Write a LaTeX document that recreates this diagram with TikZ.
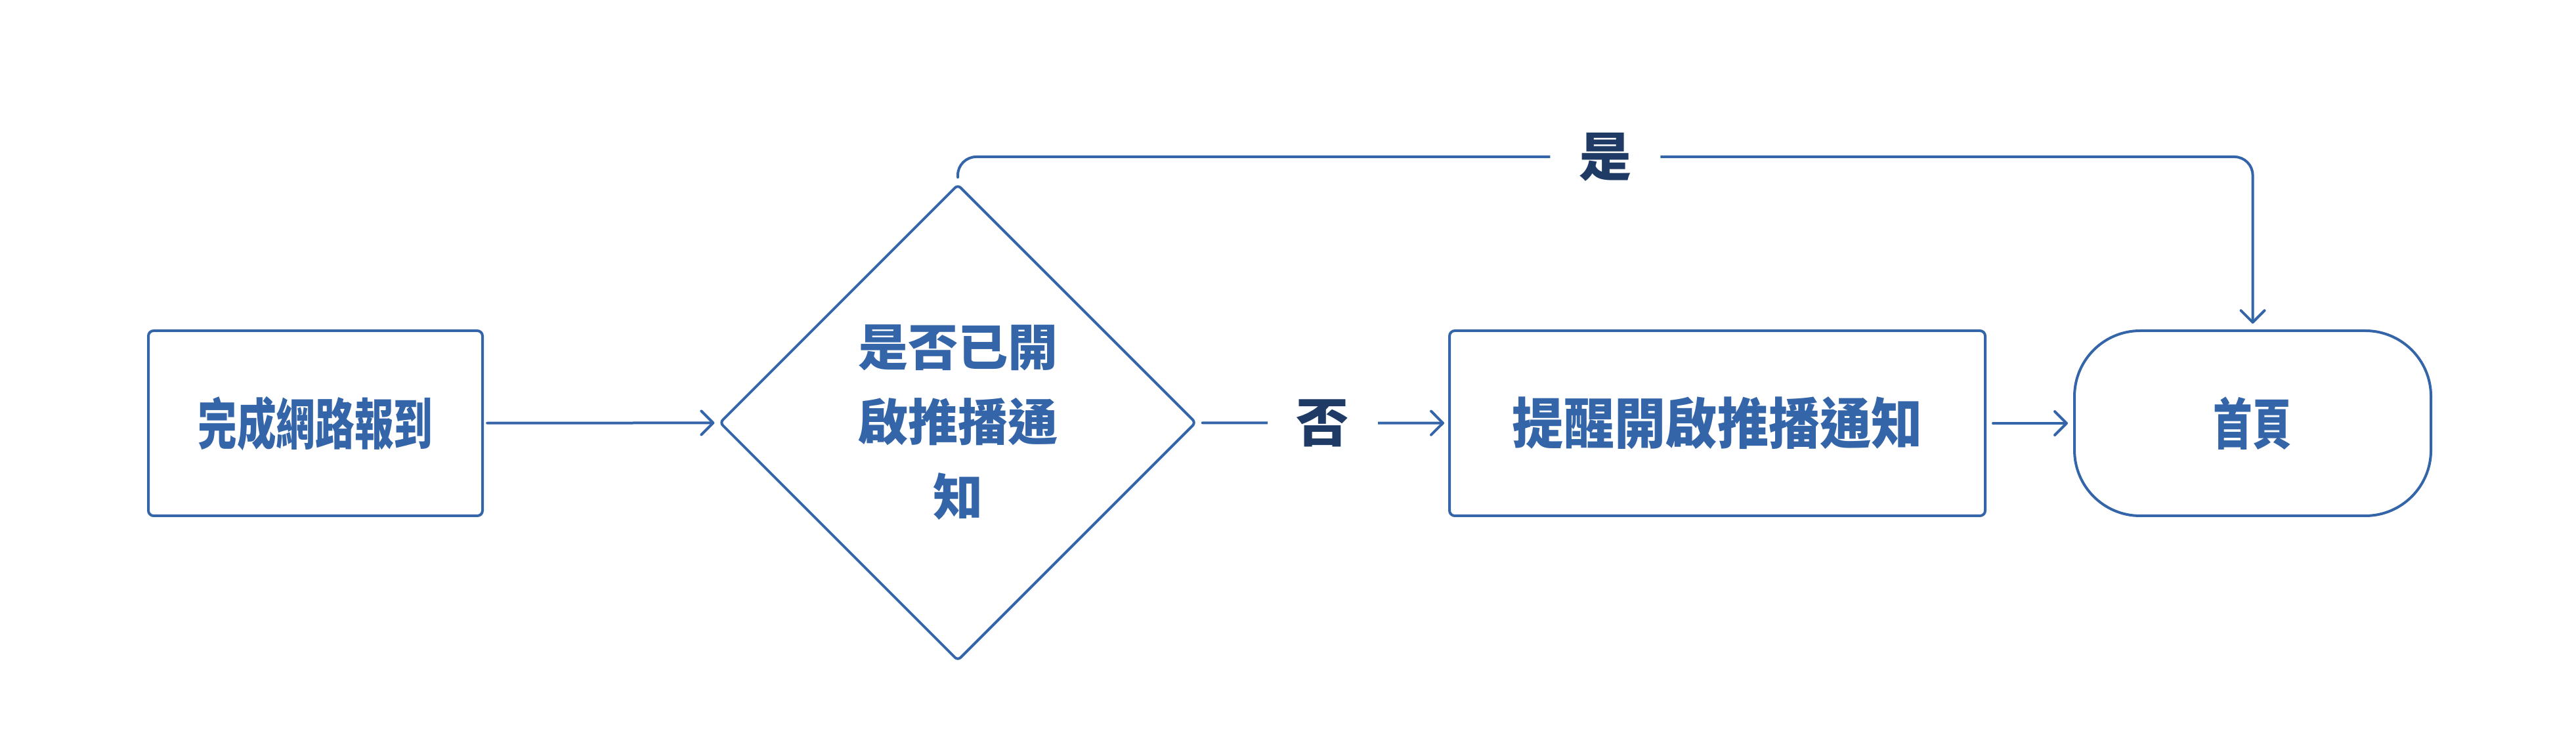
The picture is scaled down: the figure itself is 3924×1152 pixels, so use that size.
\documentclass[tikz,border=0pt]{standalone}
\usepackage{fontspec}
\usepackage{graphicx}
\newfontfamily\cjk{Noto Sans CJK TC}
\usetikzlibrary{shapes.geometric,arrows.meta}
\definecolor{bl}{RGB}{52,101,168}
\definecolor{nv}{RGB}{31,58,100}
\newcommand{\sq}[2][0.71]{\scalebox{#1}[1]{#2}}
\begin{document}
\begin{tikzpicture}[x=0.25pt,y=-0.25pt,
  box/.style={draw=bl, line width=1pt, rounded corners=2pt, inner sep=0pt,
    minimum height=70.5pt, text=bl, font=\cjk\bfseries\fontsize{21}{25}\selectfont},
  dia/.style={draw=bl, line width=1pt, diamond, aspect=1, rounded corners=1.5pt,
    inner sep=0pt, minimum width=181.5pt, minimum height=181.5pt, text=bl, align=center,
    font=\cjk\bfseries\fontsize{19}{28.5}\selectfont},
  lab/.style={fill=white, text=nv, inner xsep=11pt, inner ysep=2pt,
    font=\cjk\bfseries\fontsize{20}{24}\selectfont},
  arr/.style={draw=bl, line width=1pt, line cap=round, line join=round,
    -{Straight Barb[length=4.5pt,width=9pt,line cap=round,line join=round]}}]
\useasboundingbox[fill=white] (0,0) rectangle (3924,1152);
\node[box, minimum width=127.25pt] (b1) at (480.5,645) {\sq{完成網路報到}};
\node[dia] (d) at (1459,644) {是否已開\\啟推播通\\知};
\node[box, minimum width=204pt] (b3) at (2616,645) {\sq[0.93]{提醒開啟推播通知}};
\node[box, minimum width=135.75pt, rounded corners=25pt] (b4) at (3431.5,645) {\sq{首頁}};
\draw[arr, shorten <=1.3pt, shorten >=1.5pt] (b1) -- (d);
\draw[arr, shorten <=2pt, shorten >=1.5pt] (d) -- node[lab] (no) {否} (b3);
\draw[arr, shorten <=2.5pt, shorten >=2pt] (b3) -- (b4);
\draw[arr, rounded corners=7pt, shorten <=2.2pt, shorten >=2.2pt]
  (d.north) -- ++(0,-40) -| node[lab, pos=0.25] (yes) {是} (b4.north);
\end{tikzpicture}
\end{document}
